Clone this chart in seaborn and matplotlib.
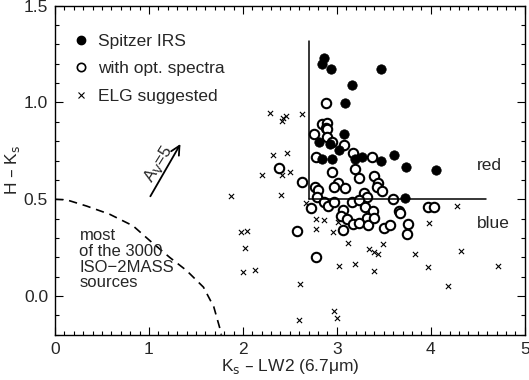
import numpy as np
import pandas as pd
import seaborn as sns
import matplotlib.pyplot as plt
from matplotlib.lines import Line2D
from matplotlib.ticker import MultipleLocator

sns.set_style("ticks")
plt.rcParams["font.family"] = ["Liberation Sans", "DejaVu Sans"]
plt.rcParams["font.size"] = 12.5

# Spitzer IRS (filled)
irs_x = [2.86, 2.84, 2.94, 3.47, 3.16, 3.09, 3.08, 2.81, 2.93, 3.02, 2.84, 2.95,
         3.19, 3.27, 3.47, 3.61, 3.74, 4.06, 3.73]
irs_y = [1.229, 1.20, 1.174, 1.171, 1.092, 0.998, 0.836, 0.795, 0.785, 0.757, 0.710, 0.708,
         0.710, 0.718, 0.696, 0.728, 0.665, 0.651, 0.508]

# with optical spectra (open)
opt_x = [2.88, 2.84, 2.90, 2.88, 2.89, 2.76, 2.90, 2.95, 3.08, 2.78, 3.17, 3.37,
         3.19, 2.95, 3.24, 3.40, 3.44, 3.43, 3.48, 3.01, 2.97, 3.09, 2.77, 2.80,
         2.63, 2.38, 3.29, 3.32, 2.79, 3.60, 2.86, 2.91, 2.97, 2.72, 3.16, 3.24,
         3.30, 3.07, 3.38, 3.04, 3.11, 3.32, 3.17, 3.24, 3.33, 3.40, 3.06, 3.50,
         3.57, 3.66, 3.67, 3.76, 3.75, 3.97, 4.03, 2.58, 2.78]
opt_y = [0.998, 0.887, 0.892, 0.870, 0.864, 0.836, 0.823, 0.795, 0.778, 0.716, 0.738, 0.720,
         0.656, 0.639, 0.610, 0.621, 0.582, 0.564, 0.541, 0.585, 0.563, 0.557, 0.564, 0.549,
         0.588, 0.660, 0.535, 0.513, 0.513, 0.499, 0.487, 0.467, 0.487, 0.453, 0.487, 0.494,
         0.462, 0.443, 0.439, 0.414, 0.400, 0.402, 0.374, 0.376, 0.366, 0.402, 0.342, 0.352,
         0.368, 0.439, 0.428, 0.374, 0.322, 0.460, 0.460, 0.335, 0.204]

# ELG suggested (crosses)
elg_x = [2.29, 2.43, 2.46, 2.42, 2.63, 2.32, 2.47, 2.20, 2.42, 2.50, 2.41, 1.87,
         1.98, 2.04, 2.02, 2.00, 2.13, 2.67, 2.78, 2.86, 3.01, 2.78, 2.96, 3.12,
         3.34, 3.40, 3.44, 3.49, 3.83, 4.32, 3.02, 3.19, 3.40, 3.97, 4.28, 3.98,
         2.61, 4.18, 4.71, 2.97, 3.00, 2.60]
elg_y = [0.946, 0.920, 0.930, 0.905, 0.941, 0.730, 0.738, 0.623, 0.623, 0.641, 0.522, 0.515,
         0.333, 0.337, 0.248, 0.123, 0.135, 0.479, 0.400, 0.393, 0.385, 0.344, 0.332, 0.272,
         0.243, 0.228, 0.215, 0.270, 0.217, 0.233, 0.157, 0.166, 0.128, 0.151, 0.465, 0.378,
         0.060, 0.050, 0.156, -0.078, -0.114, -0.126]

# dashed boundary of the bulk ISO-2MASS population
curve_x = [0.0, 0.124, 0.336, 0.58, 0.83, 1.01, 1.22, 1.40, 1.58, 1.69, 1.76, 1.77]
curve_y = [0.5, 0.497, 0.465, 0.423, 0.363, 0.286, 0.20, 0.132, 0.046, -0.056, -0.176, -0.2]

# red/blue separation lines
vline_x = 2.70
vline_top = 1.32
hline_y = 0.5
hline_end = 4.59

# reddening vector A_V = 5
arrow_start = (1.0, 0.503)
arrow_end = (1.35, 0.798)

df = pd.concat([
    pd.DataFrame({"x": irs_x, "y": irs_y, "group": "Spitzer IRS"}),
    pd.DataFrame({"x": opt_x, "y": opt_y, "group": "with opt. spectra"}),
    pd.DataFrame({"x": elg_x, "y": elg_y, "group": "ELG suggested"}),
])

fig = plt.figure(figsize=(5.29, 3.80), dpi=100)
ax = fig.add_axes([0.104, 0.119, 0.888, 0.866])

sub = df[df.group == "ELG suggested"]
sns.scatterplot(x="x", y="y", data=sub, marker="x", s=14, color="black",
                linewidth=0.8, ax=ax, legend=False)
sub = df[df.group == "with opt. spectra"]
sns.scatterplot(x="x", y="y", data=sub, marker="o", s=46, facecolor="white",
                edgecolor="black", linewidth=1.5, ax=ax, legend=False)
sub = df[df.group == "Spitzer IRS"]
sns.scatterplot(x="x", y="y", data=sub, marker="o", s=46, color="black",
                edgecolor="black", linewidth=0.5, ax=ax, legend=False)

ax.plot([vline_x, vline_x], [hline_y, vline_top], color="black", lw=1.1)
ax.plot([vline_x, hline_end], [hline_y, hline_y], color="black", lw=1.1)
ax.plot(curve_x, curve_y, color="black", lw=1.2, ls=(0, (5, 3.5)))

ax.annotate("", xy=arrow_end, xytext=arrow_start,
            arrowprops=dict(arrowstyle="->", color="black", lw=1.3,
                            mutation_scale=16))
ax.text(1.10, 0.68, "A$_\\mathrm{V}$=5", rotation=58, ha="center", va="center",
        fontsize=12)

ax.text(4.49, 0.675, "red", ha="left", va="center")
ax.text(4.49, 0.376, "blue", ha="left", va="center")
ax.text(0.26, 0.35, "most\nof the 3000\nISO\u22122MASS\nsources", ha="left",
        va="top", linespacing=1.05, fontsize=12)

handles = [
    Line2D([], [], ls="", marker="o", color="black", markersize=6),
    Line2D([], [], ls="", marker="o", markerfacecolor="white",
           markeredgecolor="black", markeredgewidth=1.2, markersize=6),
    Line2D([], [], ls="", marker="x", color="black", markersize=4, markeredgewidth=0.8),
]
ax.legend(handles, ["Spitzer IRS", "with opt. spectra", "ELG suggested"],
          loc="upper left", bbox_to_anchor=(0.025, 0.935), frameon=False,
          handlelength=0.8, handletextpad=0.6, labelspacing=0.7,
          fontsize=12.5, borderaxespad=0)

ax.set_xlim(0, 5)
ax.set_ylim(-0.2, 1.5)
ax.xaxis.set_major_locator(MultipleLocator(1))
ax.xaxis.set_minor_locator(MultipleLocator(0.1))
ax.yaxis.set_major_locator(MultipleLocator(0.5))
ax.yaxis.set_minor_locator(MultipleLocator(0.1))
ax.tick_params(which="both", direction="in", top=True, right=True, color="black")
ax.tick_params(which="major", length=6, width=0.8, labelsize=12.5, pad=5)
ax.tick_params(which="minor", length=3, width=0.8)
for sp in ax.spines.values():
    sp.set_linewidth(1.0)
    sp.set_color("black")

ax.set_xlabel("K$_\\mathrm{s}$ \u2013 LW2 (6.7\u03bcm)", fontsize=12.5, labelpad=0)
ax.set_ylabel("H \u2013 K$_\\mathrm{s}$", fontsize=12.5, labelpad=1)

fig.savefig("out.png", dpi=100)
